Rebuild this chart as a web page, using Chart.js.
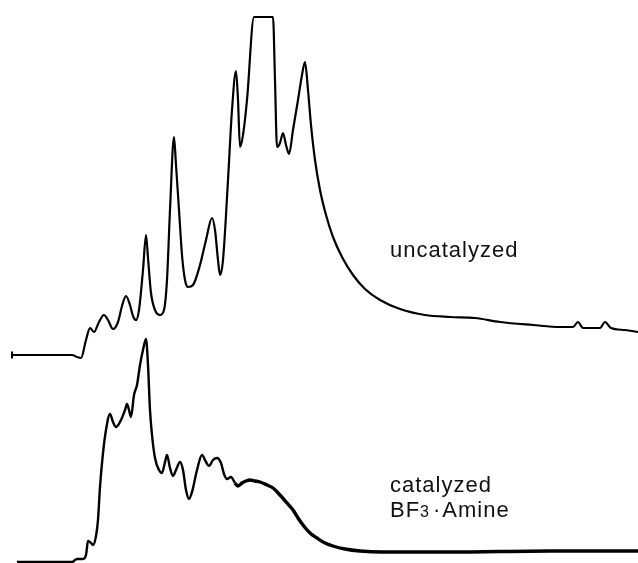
<!DOCTYPE html>
<html>
<head>
<meta charset="utf-8">
<script src="https://cdn.jsdelivr.net/npm/chart.js@4/dist/chart.umd.min.js"></script>
<style>
  html, body { margin: 0; padding: 0; background: #fff; }
  #wrap { width: 638px; height: 563px; }
</style>
</head>
<body>
<div id="wrap"><canvas id="gpc" width="638" height="563"></canvas></div>
<script>
// Retention (arbitrary units) and detector response above each trace's own baseline.
const uncatRet = [12, 72, 77, 81, 86, 90, 94, 99, 104, 108, 113, 118, 122, 126, 130, 133, 136, 139, 143, 146,
  148, 151, 155, 160, 164, 167, 170, 174, 176, 179, 182, 185, 188, 193, 200, 206, 212, 215, 218, 220,
  223, 228, 232, 236, 238, 240, 243, 247, 254, 273, 275, 277, 280, 283, 286, 289, 293, 298, 302, 305,
  308, 311, 315, 320, 326, 333, 342, 353, 365, 380, 400, 425, 450, 475, 500, 533, 560, 573, 578, 583,
  600, 605, 611, 625, 638];
const uncatResp = [0, 0, -2, -3, 15, 27, 23, 33, 40, 35, 26, 33, 49, 59, 50, 39, 35, 45, 85, 120,
  97, 62, 45, 40, 45, 75, 145, 218, 190, 145, 100, 75, 68, 70, 90, 115, 137, 125, 95, 80,
  95, 175, 245, 284, 255, 208, 220, 255, 338, 338, 275, 208, 212, 222, 210, 201, 225, 255, 280, 293,
  265, 230, 195, 165, 140, 118, 98, 80, 66, 55, 46, 40, 38, 37, 33, 30, 28, 28, 33, 27,
  27, 33, 27, 25, 23];

const catRet = [17, 72, 77, 83, 86, 88, 91, 93, 96, 98, 100, 103, 106, 110, 113, 116, 121, 125, 127, 129,
  131, 134, 137, 140, 143, 146, 148, 150, 152, 155, 159, 162, 165, 167, 170, 173, 176, 180, 183, 186,
  189, 192, 197, 202, 206, 209, 213, 217, 221, 224, 227, 231, 235, 238, 242, 246, 250, 255, 260, 267,
  273, 280, 287, 293, 298, 303, 310, 317, 325, 333, 345, 360, 383, 450, 550, 638];
const catResp = [0, 0, 3, 3, 7, 21, 19, 17, 26, 42, 75, 109, 132, 148, 140, 135, 142, 152, 158, 152,
  145, 167, 177, 197, 212, 223, 197, 152, 127, 104, 92, 89, 100, 107, 94, 86, 92, 100, 92, 72,
  63, 70, 92, 107, 100, 96, 102, 104, 99, 88, 83, 85, 79, 76, 79, 81, 82, 81, 80, 77,
  74, 67, 59, 52, 44, 37, 29, 24, 19, 16, 13, 11, 10, 10, 11, 11];

const traceLabels = ['uncatalyzed', 'catalyzed'];

const toPoints = (xs, ys) => xs.map((x, i) => ({ x, y: ys[i] }));

// Trace captions, placed in data coordinates of each trace.
const captionPlugin = {
  id: 'captions',
  afterDatasetsDraw(chart) {
    const { ctx, scales } = chart;
    const x0 = scales.x.getPixelForValue(390);
    ctx.save();
    ctx.fillStyle = '#111';
    ctx.textBaseline = 'alphabetic';
    ctx.textAlign = 'left';
    ctx.letterSpacing = '1px';
    ctx.font = '22px "Liberation Sans", Arial, sans-serif';
    ctx.fillText(traceLabels[0], x0, scales.yU.getPixelForValue(98));
    ctx.fillText(traceLabels[1], x0, scales.yC.getPixelForValue(70));
    // BF3 · Amine with subscript 3
    const yb = scales.yC.getPixelForValue(45);
    let x = x0;
    ctx.fillText('BF', x, yb);
    x += ctx.measureText('BF').width;
    ctx.font = '16px "Liberation Sans", Arial, sans-serif';
    ctx.fillText('3', x, yb);
    x += ctx.measureText('3').width + 3;
    ctx.font = '22px "Liberation Sans", Arial, sans-serif';
    ctx.fillText('\u00B7', x, yb);
    x += ctx.measureText('\u00B7').width + 1;
    ctx.fillText('Amine', x, yb);
    ctx.restore();
  }
};

new Chart(document.getElementById('gpc'), {
  type: 'line',
  data: {
    datasets: [
      {
        label: traceLabels[0],
        data: toPoints(uncatRet, uncatResp),
        yAxisID: 'yU',
        borderColor: '#000',
        borderWidth: 2.2,
        cubicInterpolationMode: 'monotone',
        pointRadius: ctx => (ctx.dataIndex === 0 ? 3.5 : 0),
        pointStyle: 'line',
        rotation: 90,
        pointBorderWidth: 2,
        pointBorderColor: '#000',
        fill: false
      },
      {
        label: traceLabels[1],
        data: toPoints(catRet, catResp),
        yAxisID: 'yC',
        borderColor: '#000',
        borderWidth: 2.4,
        cubicInterpolationMode: 'monotone',
        pointRadius: 0,
        fill: false,
        segment: {
          borderWidth: c => (c.p0.parsed.x >= 235 ? 3.4 : 2.4)
        }
      }
    ]
  },
  options: {
    responsive: false,
    animation: false,
    events: [],
    layout: { padding: 0, autoPadding: false },
    plugins: { legend: { display: false }, tooltip: { enabled: false } },
    scales: {
      x: { type: 'linear', min: 0, max: 638, display: false },
      yU: { type: 'linear', min: -208, max: 355, display: false },
      yC: { type: 'linear', min: -1, max: 562, display: false }
    }
  },
  plugins: [captionPlugin]
});
</script>
</body>
</html>
